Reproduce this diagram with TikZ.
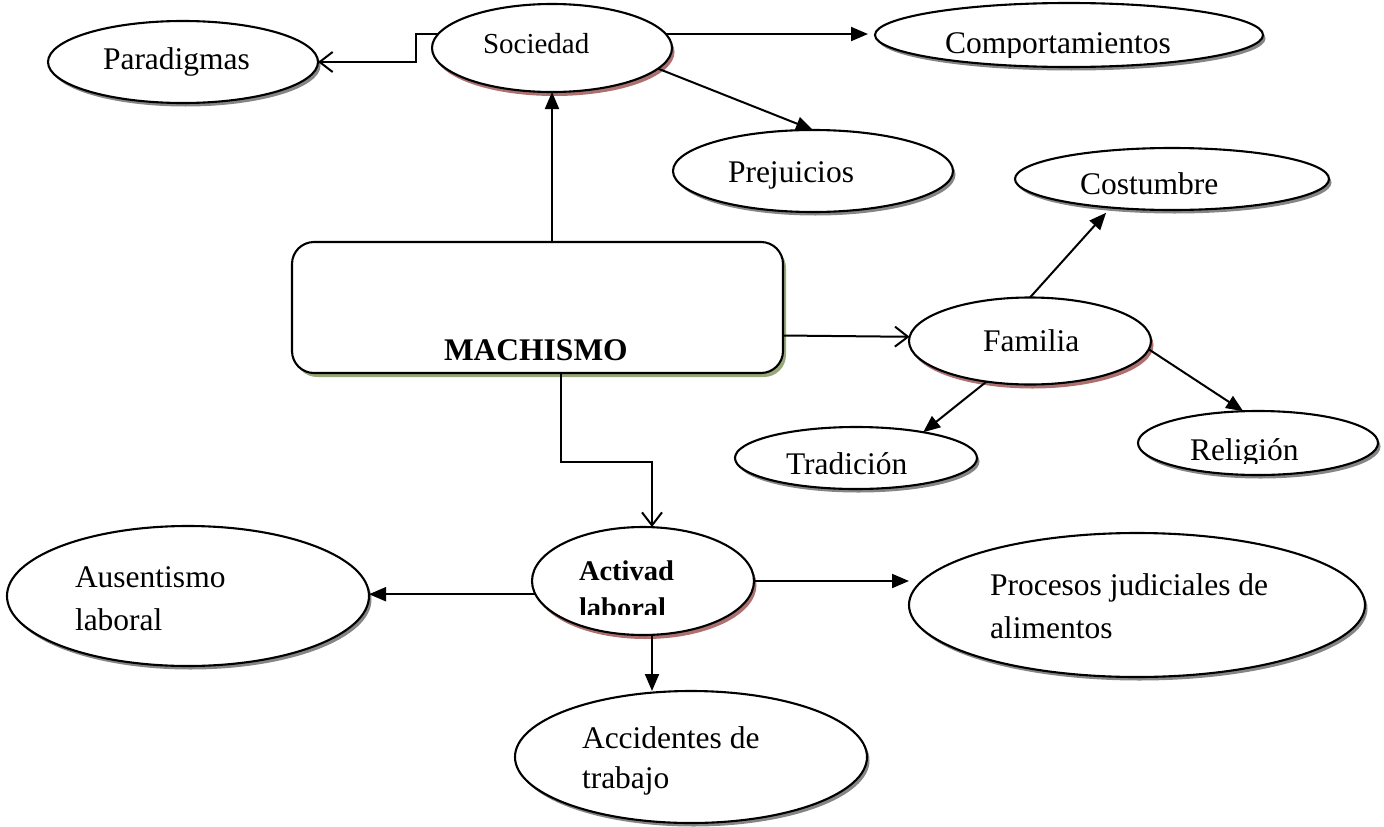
\documentclass[tikz,border=0pt]{standalone}
\usepackage{fontspec}
\setmainfont{Liberation Serif}
\usetikzlibrary{shapes.geometric,shadows,arrows.meta,calc}
\definecolor{shgray}{RGB}{120,120,120}
\definecolor{shred}{RGB}{172,112,112}
\definecolor{shgreen}{RGB}{152,168,122}
\begin{document}
\begin{tikzpicture}[x=1pt,y=-1pt,
  oval/.style={ellipse, draw, line width=2.1pt, fill=white, inner sep=0pt, outer sep=0pt},
  gsh/.style={drop shadow={shadow xshift=2.5pt, shadow yshift=-3.5pt, fill=shgray, opacity=0.9}},
  rsh/.style={drop shadow={shadow xshift=2.5pt, shadow yshift=-4pt, fill=shred, opacity=1}},
  txt/.style={inner sep=0pt, outer sep=0pt, anchor=base west, align=left, font=\fontsize{31.5}{43}\selectfont},
  farr/.style={-{Triangle[length=17pt,width=14pt]}, line width=2pt},
  oarr/.style={-{Straight Barb[length=13pt,width=20pt,line width=2pt]}, line width=2pt}]
\useasboundingbox (0,0) rectangle (1384,827);

% shapes
\node[oval,gsh,minimum width=270pt,minimum height=82pt] (par) at (183,62) {};
\node[oval,rsh,minimum width=240pt,minimum height=88pt] (soc) at (552,48) {};
\node[oval,gsh,minimum width=388pt,minimum height=64pt] (comp) at (1069,35) {};
\node[oval,gsh,minimum width=280pt,minimum height=82pt] (prej) at (813,171) {};
\node[oval,gsh,minimum width=314pt,minimum height=62pt] (cost) at (1172,179) {};
\node[draw, line width=2.1pt, fill=white, rounded corners=22pt, inner sep=0pt, outer sep=0pt,
      minimum width=491pt, minimum height=131pt,
      drop shadow={shadow xshift=3pt, shadow yshift=-4pt, fill=shgreen, opacity=1}] (mach) at (537.5,307.5) {};
\node[oval,rsh,minimum width=242pt,minimum height=87pt] (fam) at (1030,341) {};
\node[oval,gsh,minimum width=242pt,minimum height=62pt] (trad) at (856,458) {};
\node[oval,gsh,minimum width=240pt,minimum height=64pt] (rel) at (1258,443) {};
\node[oval,rsh,minimum width=222pt,minimum height=108pt] (act) at (643,581) {};
\node[oval,gsh,minimum width=362pt,minimum height=140pt] (aus) at (188,596) {};
\node[oval,gsh,minimum width=456pt,minimum height=144pt] (proc) at (1137,605) {};
\node[oval,gsh,minimum width=352pt,minimum height=132pt] (acc) at (691,757) {};

% texts
\node[txt] (tpar) at (103,69) {Paradigmas};
\node[txt, font=\fontsize{29}{35}\selectfont] (tsoc) at (483,53) {Sociedad};
\begin{scope}
  \clip (880,0) rectangle (1260,57);
  \node[txt] (tcomp) at (945,53) {Comportamientos};
\end{scope}
\node[txt] (tprej) at (728,182) {Prejuicios};
\node[txt] (tcost) at (1080,194) {Costumbre};
\node[txt, font=\fontsize{31.5}{38}\selectfont\bfseries] (tmach) at (444,360) {MACHISMO};
\node[txt] (tfam) at (983,351) {Familia};
\node[txt] (ttrad) at (786,474) {Tradición};
\begin{scope}
  \clip (1140,400) rectangle (1380,463);
  \node[txt] (trel) at (1190,460) {Religión};
\end{scope}
\begin{scope}
  \clip (535,530) rectangle (750,614);
  \node[txt, font=\fontsize{28.5}{37}\selectfont\bfseries] (tact) at (579,617) {Activad\\laboral};
\end{scope}
\node[txt] (taus) at (75,630) {Ausentismo\\laboral};
\node[txt, font=\fontsize{31.5}{43}\selectfont] (tproc) at (990,638) {Procesos judiciales de\\alimentos};
\node[txt, font=\fontsize{31.5}{40}\selectfont] (tacc) at (582,788) {Accidentes de\\trabajo};

% connectors
\draw[oarr] (soc.173) -- ++(-22,0) |- (par.east);
\draw[farr, shorten >=7pt] (soc.7) -- (soc.7 -| comp.west);
\draw[farr] (soc.-11) -- (prej.north);
\draw[farr] (soc.south |- mach.north) -- (soc.south);
\draw[oarr] ([xshift=23.5pt]mach.south) -- ++(0,89) -| ([xshift=9pt]act.north);
\draw[oarr] ([yshift=-28pt]mach.east) -- (fam.178);
\draw[farr, shorten >=7pt] (fam.north) -- (cost.205);
\draw[farr] (fam.223) -- (trad.21);
\draw[farr] (fam.-4) -- (rel.115);
\draw[farr] (act.187) -- (act.187 -| aus.east);
\draw[farr] (act.east) -- (act.east -| proc.west);
\draw[farr] ([xshift=9pt]act.south) -- ([xshift=9pt]act.south |- acc.north);
\end{tikzpicture}
\end{document}
